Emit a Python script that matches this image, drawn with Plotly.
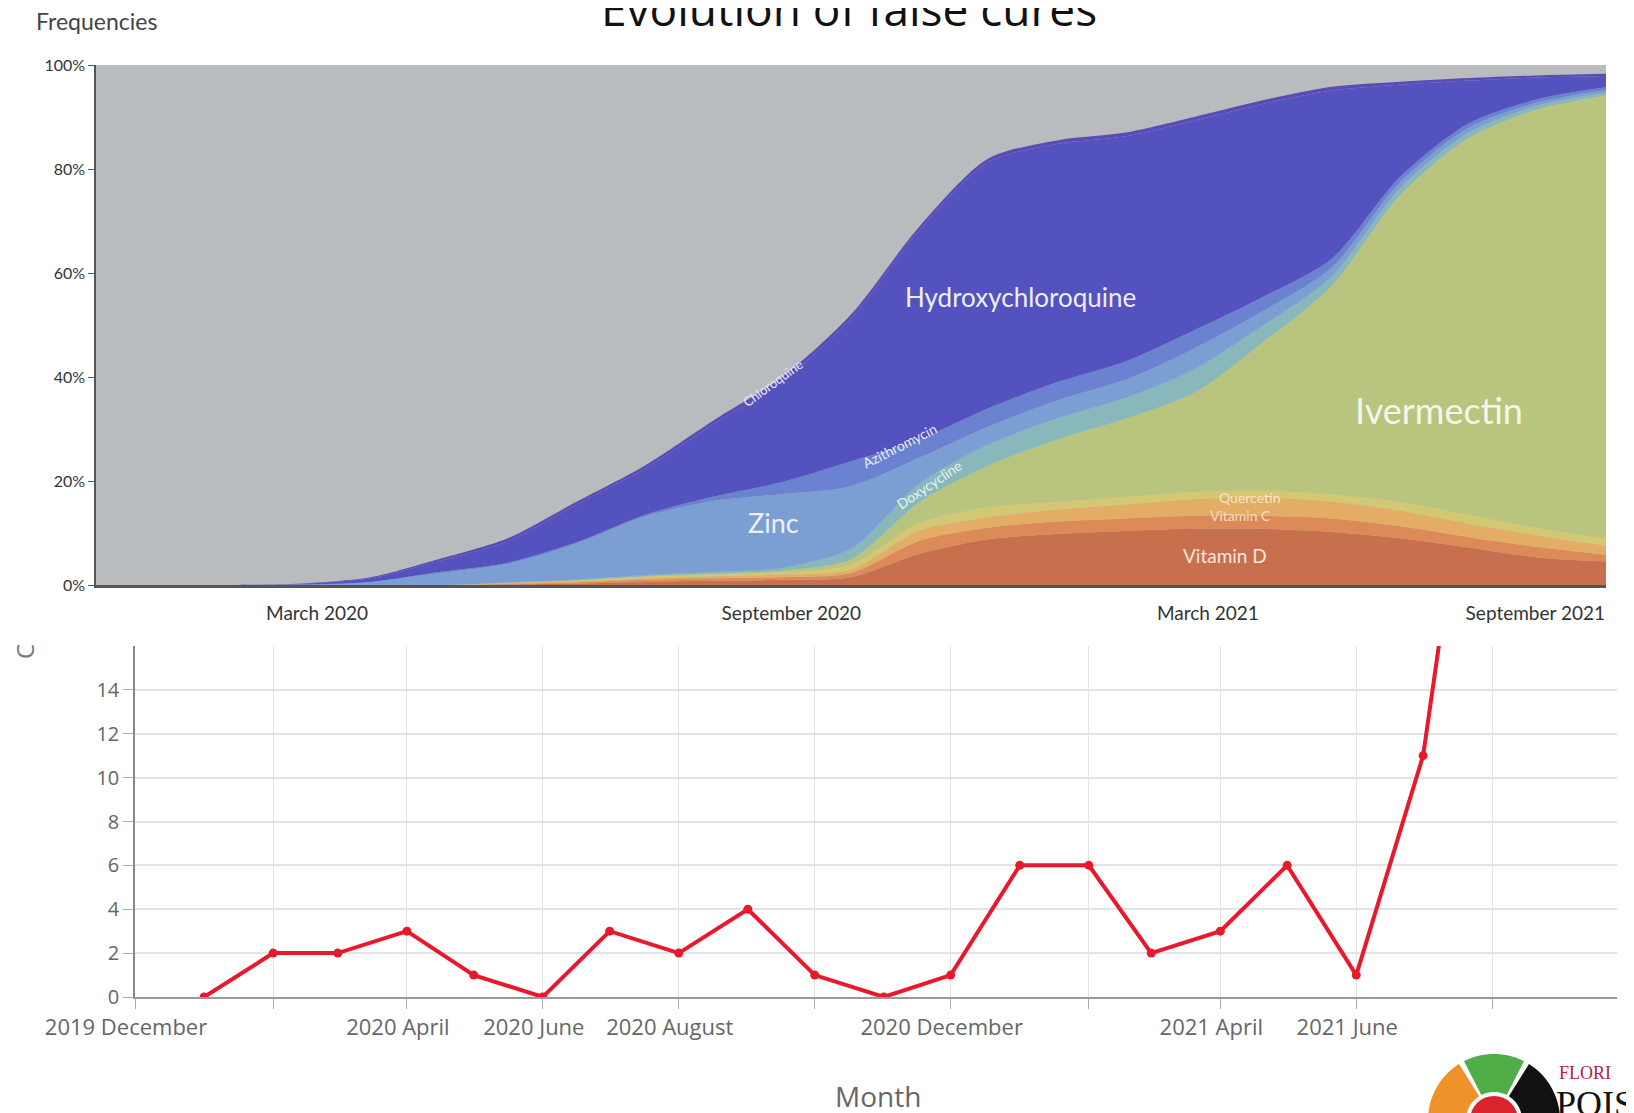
import math
import plotly.graph_objects as go

W, H = 1634, 1113
OFF = 8  # page body margin of the html page

# ---------------- Top chart data (share of mentions, %) ----------------
# time position in months along the top axis (0 = left edge, 22 = right edge)
t = list(range(23))
top_tick_pos = [3.22, 10.13, 16.2, 20.97]
top_tick_text = ["March 2020", "September 2020", "March 2021", "September 2021"]
pct_ticks = [0, 20, 40, 60, 80, 100]
pct_text = ["0%", "20%", "40%", "60%", "80%", "100%"]

vitamin_d   = [0,0,0,0,0,0,0.1,0.3,0.6,0.8,1.0,1.5,6.0,8.8,9.8,10.4,10.8,10.8,10.2,9.0,7.2,5.3,4.5]
vitamin_c   = [0,0,0,0,0,0,0.1,0.2,0.4,0.5,0.5,0.8,2.5,2.2,2.4,2.4,2.5,2.5,2.6,2.3,2.0,2.0,1.3]
quercetin   = [0,0,0,0,0,0,0.1,0.2,0.3,0.4,0.5,0.7,2.0,2.0,2.3,2.7,3.2,3.5,3.2,3.0,2.6,2.2,1.7]
other_yel   = [0,0,0,0,0,0,0.1,0.2,0.3,0.3,0.5,1.0,1.5,2.0,1.5,1.5,1.5,1.4,1.5,1.7,1.7,1.5,1.5]
ivermectin  = [0,0,0,0,0,0,0,0,0.1,0.2,0.3,1.0,4.0,8.0,12,15,19,28.5,40,59,72.5,80.5,85.2]
doxycycline = [0,0,0,0,0,0,0.1,0.1,0.2,0.3,0.5,2.0,3.5,4.0,4.0,4.0,4.5,3.2,1.8,1.3,1.0,0.7,0.5]
zinc        = [0,0,0,0.1,0.6,2.3,3.6,7.0,11.3,13.7,14.2,12.0,5.0,3.5,3.5,3.5,4.0,2.8,1.7,1.2,1.0,0.6,0.5]
azithro     = [0,0,0,0,0,0.2,0.2,0.2,0.3,0.8,2.3,4.8,3.5,3.5,3.5,3.5,3.5,2.7,1.7,1.0,0.8,0.6,0.5]
hcq         = [0,0,0,0.15,0.7,2.1,4.1,7.3,8.9,14,19.5,27.4,40.3,47.3,45.8,43.3,40.3,37.1,32.4,17.7,8.2,4.2,2.2]
chloroquine = [0,0,0,0.05,0.2,0.4,0.6,0.5,0.6,0.7,0.7,0.8,0.7,0.7,0.7,0.7,0.7,0.7,0.7,0.6,0.5,0.4,0.4]

series = [
    ("Vitamin D", vitamin_d, "#c8704e"),
    ("Vitamin C", vitamin_c, "#db8a58"),
    ("Quercetin", quercetin, "#e3ad66"),
    ("Other", other_yel, "#d3c874"),
    ("Ivermectin", ivermectin, "#b9c47e"),
    ("Doxycycline", doxycycline, "#88b8bc"),
    ("Zinc", zinc, "#7c9fd3"),
    ("Azithromycin", azithro, "#6a82d0"),
    ("Hydroxychloroquine", hcq, "#5452be"),
    ("Chloroquine", chloroquine, "#5b4bb6"),
]

# ---------------- Bottom chart data (monthly counts) ----------------
months = ["2020-01-01","2020-02-01","2020-03-01","2020-04-01","2020-05-01","2020-06-01",
          "2020-07-01","2020-08-01","2020-09-01","2020-10-01","2020-11-01","2020-12-01",
          "2021-01-01","2021-02-01","2021-03-01","2021-04-01","2021-05-01","2021-06-01",
          "2021-07-01","2021-08-01"]
counts = [0,2,2,3,1,0,3,2,4,1,0,1,6,6,2,3,6,1,11,33]
bottom_tick_vals = ["2019-12-01","2020-02-01","2020-04-01","2020-06-01","2020-08-01","2020-10-01",
                    "2020-12-01","2021-02-01","2021-04-01","2021-06-01","2021-08-01"]
bottom_tick_text = ["2019 December","","2020 April","2020 June","2020 August","",
                    "2020 December","","2021 April","2021 June",""]
count_ticks = [0, 2, 4, 6, 8, 10, 12, 14]

fig = go.Figure()

for name, vals, col in series:
    fig.add_trace(go.Scatter(
        x=t, y=vals, name=name, stackgroup="s", mode="lines",
        line=dict(width=0, shape="spline", smoothing=0.8, color=col),
        fillcolor=col, xaxis="x", yaxis="y", showlegend=False))

fig.add_trace(go.Scatter(
    x=months, y=counts, mode="lines+markers", xaxis="x2", yaxis="y2",
    line=dict(color="#e8192c", width=4),
    marker=dict(color="#e8192c", size=9), showlegend=False, name="Count"))

# page pixel -> figure fraction
def px(x): return (x - OFF) / W
def py(y): return 1 - (y - OFF) / H

shapes = [
    dict(type="rect", xref="x domain", yref="y domain", x0=0, x1=1, y0=0, y1=1,
         fillcolor="#b9bcbe", line=dict(width=0), layer="below"),
]

# decorative logo (bottom right)
cx, cy = 1494, 1120
def sector(a1, a2, r1, r2, color):
    pts = []
    n = 16
    for i in range(n + 1):
        a = math.radians(a1 + (a2 - a1) * i / n)
        pts.append((cx + r2 * math.cos(a), cy - r2 * math.sin(a)))
    for i in range(n + 1):
        a = math.radians(a2 - (a2 - a1) * i / n)
        pts.append((cx + r1 * math.cos(a), cy - r1 * math.sin(a)))
    path = "M " + " L ".join(f"{px(x):.5f},{py(y):.5f}" for x, y in pts) + " Z"
    return dict(type="path", xref="paper", yref="paper", path=path,
                fillcolor=color, line=dict(width=0), layer="above")

shapes += [
    sector(122, 176, 28, 66, "#f0922a"),
    sector(63, 117, 28, 66, "#4fae48"),
    sector(4, 58, 28, 66, "#111111"),
]
shapes.append(dict(type="circle", xref="paper", yref="paper",
                   x0=px(cx - 24), x1=px(cx + 24), y0=py(cy + 24), y1=py(cy - 24),
                   fillcolor="#d9232d", line=dict(width=0)))

annotations = [
    dict(text="Evolution of false cures", xref="paper", yref="paper",
         x=px(849), y=py(41), xanchor="center", yanchor="bottom", showarrow=False,
         font=dict(size=46, color="#111", family="Open Sans")),
    dict(text="Frequencies", xref="paper", yref="paper", x=px(34), y=py(21),
         xanchor="left", yanchor="middle", showarrow=False,
         font=dict(size=23, color="#444", family="Lato")),
    dict(text="Hydroxychloroquine", x=13.47, y=55.3, xref="x", yref="y", showarrow=False,
         font=dict(size=26, color="#eeeef8", family="Lato")),
    dict(text="Ivermectin", x=19.56, y=33.7, xref="x", yref="y", showarrow=False,
         font=dict(size=36, color="#f4f6ea", family="Lato")),
    dict(text="Zinc", x=9.87, y=12.0, xref="x", yref="y", showarrow=False,
         font=dict(size=27, color="#eef2fb", family="Lato")),
    dict(text="Vitamin D", x=16.45, y=5.6, xref="x", yref="y", showarrow=False,
         font=dict(size=19, color="#fbe6da", family="Lato")),
    dict(text="Vitamin C", x=16.67, y=13.4, xref="x", yref="y", showarrow=False,
         font=dict(size=14, color="#f7dcc6", family="Lato")),
    dict(text="Quercetin", x=16.8, y=16.9, xref="x", yref="y", showarrow=False,
         font=dict(size=14, color="#f8e6c4", family="Lato")),
    dict(text="Chloroquine", x=9.86, y=38.8, xref="x", yref="y", showarrow=False,
         textangle=-36, font=dict(size=13, color="#e8e8f4", family="Lato")),
    dict(text="Azithromycin", x=11.71, y=26.9, xref="x", yref="y", showarrow=False,
         textangle=-27, font=dict(size=14, color="#e8ecf8", family="Lato")),
    dict(text="Doxycycline", x=12.14, y=19.3, xref="x", yref="y", showarrow=False,
         textangle=-34, font=dict(size=14, color="#e8f2f4", family="Lato")),
    dict(text="Month", xref="paper", yref="paper", x=px(878), y=py(1096),
         xanchor="center", yanchor="middle", showarrow=False,
         font=dict(size=28, color="#666", family="Open Sans")),
    dict(text="C", xref="paper", yref="paper", x=px(24), y=py(651),
         xanchor="center", yanchor="middle", showarrow=False, textangle=-90,
         font=dict(size=24, color="#777", family="Open Sans")),
    dict(text="FLORI", xref="paper", yref="paper", x=px(1557), y=py(1073),
         xanchor="left", yanchor="middle", showarrow=False,
         font=dict(size=18, color="#b3223a", family="Liberation Serif")),
    dict(text="POIS", xref="paper", yref="paper", x=px(1554), y=py(1104),
         xanchor="left", yanchor="middle", showarrow=False,
         font=dict(size=36, color="#111", family="Liberation Serif")),
]

fig.update_layout(
    template="none",
    width=W, height=H, margin=dict(l=0, r=0, t=0, b=0, pad=0), autosize=False,
    paper_bgcolor="white", plot_bgcolor="rgba(0,0,0,0)",
    showlegend=False,
    shapes=shapes, annotations=annotations,
    xaxis=dict(domain=[px(96), px(1606)], anchor="y", range=[0, 22], automargin=False,
               tickmode="array", tickvals=top_tick_pos, ticktext=top_tick_text,
               showgrid=False, zeroline=False, showline=True, linecolor="#555", linewidth=2.5,
               ticks="outside", ticklen=9, tickcolor="rgba(0,0,0,0)",
               tickfont=dict(size=19, color="#333", family="Lato")),
    yaxis=dict(domain=[py(585), py(65)], anchor="x", range=[0, 100], automargin=False,
               tickmode="array", tickvals=pct_ticks, ticktext=pct_text,
               showgrid=False, zeroline=False, showline=True, linecolor="#555", linewidth=1.5,
               ticks="outside", ticklen=6, tickcolor="#555",
               tickfont=dict(size=16, color="#333", family="Lato")),
    xaxis2=dict(domain=[px(135), px(1617)], anchor="y2", type="date", automargin=False,
                range=["2019-12-01", "2021-09-26"],
                tickmode="array", tickvals=bottom_tick_vals, ticktext=bottom_tick_text,
                ticklabelshift=-9,
                showgrid=True, gridcolor="#e3e3e3", gridwidth=1.2,
                zeroline=False, showline=True, linecolor="#999", linewidth=2,
                ticks="outside", ticklen=10, tickcolor="#aaa",
                tickfont=dict(size=22, color="#666", family="Open Sans")),
    yaxis2=dict(domain=[py(997), py(646)], anchor="x2", range=[0, 16], automargin=False,
                tickmode="array", tickvals=count_ticks,
                showgrid=True, gridcolor="#e3e3e3", gridwidth=1.5,
                zeroline=False, showline=True, linecolor="#888", linewidth=1.5,
                ticks="outside", ticklen=10, tickcolor="#aaa",
                tickfont=dict(size=20, color="#666", family="Open Sans")),
)

fig.write_html("out.html")
